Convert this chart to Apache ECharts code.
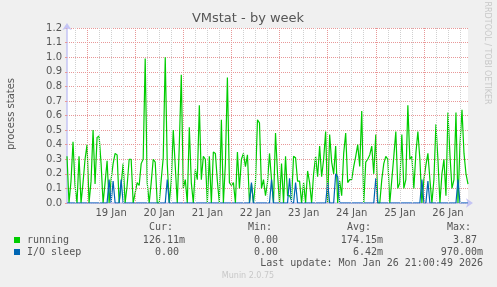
<!DOCTYPE html>
<html>
<head>
<meta charset="utf-8">
<script src="https://cdn.jsdelivr.net/npm/echarts@6/dist/echarts.min.js"></script>
<style>
html,body{margin:0;padding:0;background:#f0f0f0;}
#chart{width:497px;height:287px;}
</style>
</head>
<body>
<div id="chart"></div>
<script>
// Hourly samples from 18 Jan 14:00 to 26 Jan 22:00 (index 10 = 19 Jan 00:00)
const dayLabels = ['19 Jan','20 Jan','21 Jan','22 Jan','23 Jan','24 Jan','25 Jan','26 Jan'];
const running = [
0.32,0,0.15,0.42,0.12,0,0.32,0,0.14,0.3,
0.4,0,0.15,0.5,0.13,0.45,0.46,0.27,0,0.14,
0.29,0,0.16,0.27,0.34,0.33,0,0.12,0.27,0,
0.12,0.3,0.3,0,0.07,0.14,0.12,0.27,0.3,0.99,
0.14,0,0.14,0.3,0.28,0,0,0.16,0.31,1.0,
0.27,0,0.15,0.5,0.25,0,0.39,0.88,0.1,0.16,
0,0.52,0.14,0,0.23,0.16,0.67,0.16,0.32,0.3,
0,0.32,0,0.35,0.34,0.15,0,0.57,0,0.27,
0.86,0.14,0.12,0.14,0,0.35,0.1,0.3,0.34,0.25,
0.33,0,0.13,0,0.14,0.57,0.55,0.1,0.16,0.05,
0.14,0.34,0.16,0,0.48,0.2,0,0.27,0,0.32,
0.05,0.05,0.02,0.32,0.31,0.15,0.15,0,0.14,0,
0.22,0.14,0,0.2,0.32,0.18,0.39,0.18,0.3,0.49,
0,0.47,0.28,0.2,0.39,0,0.15,0.05,0.34,0.48,
0.14,0.16,0.16,0.25,0.32,0.4,0.25,0.63,0,0.28,
0.3,0.33,0.39,0.2,0.47,0,0,0.16,0.27,0.32,
0.3,0,0.16,0.32,0.49,0.1,0.14,0.47,0.1,0.16,
0.67,0.3,0.32,0.1,0.34,0.49,0.3,0,0.16,0.26,
0.34,0.16,0,0.16,0.54,0.3,0,0.2,0.3,0.05,
0.62,0.33,0.1,0.16,0.62,0,0.4,0.64,0.34,0.2,
0.13
];
const ioSleep = [
0,0,0,0,0,0,0,0,0,0,
0,0,0,0,0,0,0,0,0,0,
0,0.16,0,0.15,0,0,0,0.16,0,0,
0,0,0,0,0,0,0,0,0,0,
0,0,0,0,0,0,0,0,0,0,
0.16,0,0,0,0,0,0,0,0,0,
0,0,0,0,0,0,0,0,0,0,
0,0,0,0,0,0,0,0,0,0,
0,0,0,0,0,0,0,0,0,0,
0,0,0.14,0,0,0,0,0,0,0,
0,0,0.16,0,0,0,0,0,0,0,
0,0.17,0,0,0.14,0,0,0,0,0,
0,0,0,0,0,0,0,0,0,0,
0.14,0,0,0,0.2,0.18,0,0,0,0,
0,0,0,0,0,0,0,0,0,0,
0,0,0,0,0.17,0,0,0,0,0,
0,0,0,0,0,0,0,0,0,0,
0,0,0,0,0,0,0,0.16,0,0,
0.15,0,0,0,0,0,0,0,0,0,
0,0,0,0,0,0.16,0,0,0,0,
0
];
const seriesNames = ['running','I/O sleep'];
const seriesColors = ['#00cc00','#0066b3'];
const statHeaders = ['Cur:','Min:','Avg:','Max:'];
const statsRunning = ['126.11m','0.00','174.15m','3.87'];
const statsIo = ['0.00','0.00','6.42m','970.00m'];
const yTicks = ['0.0','0.1','0.2','0.3','0.4','0.5','0.6','0.7','0.8','0.9','1.0','1.1','1.2'];

const hours = running.map((_, i) => i);
const MIDNIGHT0 = 10, NOON0 = 22;
const isMidnight = i => (i - MIDNIGHT0) % 24 === 0;
const isSixHour = i => (i - MIDNIGHT0 + 24) % 6 === 0;
const majorHours = hours.filter(isMidnight);
const minorHours = hours.filter(i => isSixHour(i) && !isMidnight(i));

const chart = echarts.init(document.getElementById('chart'), null, {renderer:'canvas'});
const txt = '#555';
const axisCol = '#c4c4f4';
const majorCol = '#e89898';
const minorCol = '#d0d0d0';
const mono = '"DejaVu Sans Mono", monospace';
const sans = '"DejaVu Sans", sans-serif';

const colEnds = [185, 284, 383, 483];
function statText(val, col, y){
  const hasUnit = /m$/.test(val);
  return {type:'text', x: colEnds[col] - (hasUnit ? 0 : 6), y: y,
    style:{text: val, fill: txt, font: '10px ' + mono, textAlign:'right', textVerticalAlign:'middle'}};
}
const graphics = [
  {type:'text', x:248, y:19, style:{text:'VMstat - by week', fill:'#555', font:'13px ' + sans, textAlign:'center', textVerticalAlign:'middle'}},
  {type:'text', x:11, y:114, rotation:Math.PI/2, style:{text:'process states', fill:'#555', font:'10px ' + sans, textAlign:'center', textVerticalAlign:'middle'}},
  {type:'text', x:487, y:53, rotation:-Math.PI/2, style:{text:'RRDTOOL / TOBI OETIKER', fill:'#c8c8c8', font:'8px ' + sans, textAlign:'center', textVerticalAlign:'middle'}},
  {type:'rect', shape:{x:14, y:237, width:6, height:6}, style:{fill: seriesColors[0]}},
  {type:'rect', shape:{x:14, y:249, width:6, height:6}, style:{fill: seriesColors[1]}},
  {type:'text', x:27, y:240, style:{text: seriesNames[0], fill: txt, font:'10px ' + mono, textVerticalAlign:'middle'}},
  {type:'text', x:27, y:252, style:{text: seriesNames[1], fill: txt, font:'10px ' + mono, textVerticalAlign:'middle'}},
  {type:'text', x:483, y:263, style:{text:'Last update: Mon Jan 26 21:00:49 2026', fill: txt, font:'10px ' + mono, textAlign:'right', textVerticalAlign:'middle'}},
  {type:'text', x:248, y:276, style:{text:'Munin 2.0.75', fill:'#c8c8c8', font:'8px ' + sans, textAlign:'center', textVerticalAlign:'middle'}}
];
statHeaders.forEach((h, c) => graphics.push({type:'text', x: colEnds[c] - 12, y:227,
  style:{text:h, fill:txt, font:'10px ' + mono, textAlign:'right', textVerticalAlign:'middle'}}));
statsRunning.forEach((v, c) => graphics.push(statText(v, c, 240)));
statsIo.forEach((v, c) => graphics.push(statText(v, c, 252)));

function gridMarks(list, color){
  return {
    type:'line', data: hours.map(() => null), showSymbol:false, symbol:'none', silent:true, z:1,
    lineStyle:{width:0}, tooltip:{show:false},
    markLine:{silent:true, symbol:['none','none'], animation:false, label:{show:false},
      lineStyle:{color: color, type:[1,1], width:1},
      emphasis:{disabled:true},
      data: list.map(h => ({xAxis: h}))}
  };
}

chart.setOption({
  animation:false,
  backgroundColor:'#f0f0f0',
  grid:{left:67, right:29, top:28, bottom:84, show:true, backgroundColor:'#ffffff', borderWidth:0},
  xAxis:{type:'category', data:hours, boundaryGap:false,
     axisLine:{show:true, lineStyle:{color:axisCol, width:1.5}, symbol:['none','arrow'], symbolSize:[7,7], symbolOffset:[0,5]},
     axisTick:{show:false},
     axisLabel:{show:true, interval:(i)=> (i - NOON0) % 24 === 0 && i >= NOON0,
       formatter:(v, i)=> dayLabels[(i - NOON0)/24] || '', color:txt, fontSize:10, fontFamily:sans, margin:5},
     splitLine:{show:false}
  },
  yAxis:{type:'value', min:0, max:1.2, interval:0.1,
    axisLine:{show:true, lineStyle:{color:axisCol, width:1.5}, symbol:['none','arrow'], symbolSize:[7,7], symbolOffset:[0,5]},
    axisTick:{show:true, length:2, lineStyle:{color:majorCol}},
    axisLabel:{formatter:(v)=> yTicks[Math.round(v*10)], color:txt, fontSize:10, fontFamily:sans, margin:5},
    splitLine:{show:true, lineStyle:{color:majorCol, type:[1,1], width:1}}
  },
  series:[
    gridMarks(minorHours, minorCol),
    gridMarks(majorHours, majorCol),
    {name:seriesNames[0], type:'line', data:running, showSymbol:false, symbol:'none',
     lineStyle:{color:seriesColors[0], width:1.2}, itemStyle:{color:seriesColors[0]}, z:3},
    {name:seriesNames[1], type:'line', data:ioSleep, showSymbol:false, symbol:'none',
     lineStyle:{color:seriesColors[1], width:1.2}, itemStyle:{color:seriesColors[1]}, z:4}
  ],
  graphic: graphics
});
</script>
</body>
</html>
